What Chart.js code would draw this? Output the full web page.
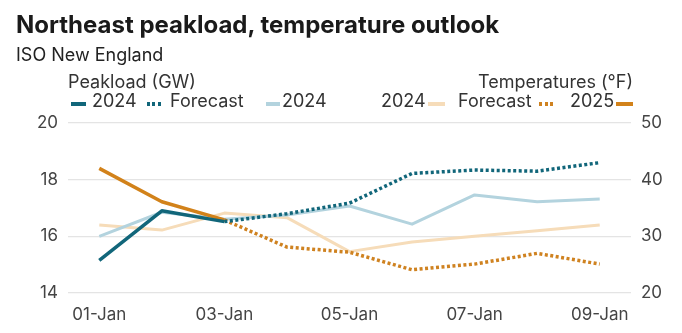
<!DOCTYPE html>
<html>
<head>
<meta charset="utf-8">
<script src="https://cdn.jsdelivr.net/npm/chart.js@4/dist/chart.umd.min.js"></script>
<style>
  body { margin: 0; background: #fff; font-family: Inter, "Noto Sans", sans-serif; color: #222; }
  #wrap { position: relative; width: 682px; height: 333px; overflow: hidden; }
  #grafica { position: absolute; left: 0; top: 0; }
  .txt { position: absolute; white-space: nowrap; }
  .titulo { left: 16px; top: 11px; font-size: 24px; font-weight: 700; line-height: 28px; color: #1a1a1a; }
  .sub { left: 16px; top: 45px; font-size: 18px; line-height: 20px; color: #222; }
  .leg { font-size: 18px; line-height: 20px; color: #333; }
  .mk { position: absolute; height: 4px; top: 102px; }
</style>
</head>
<body>
<div id="wrap">
  <canvas id="grafica" width="682" height="333"></canvas>
  <div class="txt titulo">Northeast peakload, temperature outlook</div>
  <div class="txt sub">ISO New England</div>

  <div class="txt leg" style="left:68px; top:72px;">Peakload (GW)</div>
  <span class="mk" style="left:71px; width:15px; background:#11667a;"></span>
  <div class="txt leg" style="left:92px; top:91px;">2024</div>
  <span class="mk" style="left:147px; width:14px; background:repeating-linear-gradient(90deg,#11667a 0 3px,transparent 3px 5.5px);"></span>
  <div class="txt leg" style="left:170px; top:91px;">Forecast</div>
  <span class="mk" style="left:266px; width:14px; background:#b3d3de;"></span>
  <div class="txt leg" style="left:282px; top:91px;">2024</div>

  <div class="txt leg" style="right:49px; top:72px;">Temperatures (°F)</div>
  <div class="txt leg" style="left:381px; top:91px;">2024</div>
  <span class="mk" style="left:428px; width:17px; background:#f6dcb9;"></span>
  <div class="txt leg" style="left:458px; top:91px;">Forecast</div>
  <span class="mk" style="left:539px; width:15px; background:repeating-linear-gradient(90deg,#cf8220 0 3px,transparent 3px 5.5px);"></span>
  <div class="txt leg" style="left:570px; top:91px;">2025</div>
  <span class="mk" style="left:616px; width:17px; background:#d2821a;"></span>
</div>

<script>
// Datos
const dias = ['01-Jan', '02-Jan', '03-Jan', '04-Jan', '05-Jan', '06-Jan', '07-Jan', '08-Jan', '09-Jan'];

// Peakload (GW)
const cargaActual = [15.15, 16.9, 16.52, null, null, null, null, null, null];
const cargaPronostico = [null, null, 16.52, 16.8, 17.17, 18.22, 18.34, 18.3, 18.6];
const carga2024 = [16.0, 16.85, 16.6, 16.75, 17.07, 16.43, 17.46, 17.22, 17.32];

// Temperaturas (°F)
const temp2025 = [42.0, 36.1, 32.9, null, null, null, null, null, null];
const tempPronostico = [null, null, 32.9, 28.1, 27.2, 24.1, 25.1, 27.0, 25.1];
const temp2024 = [32.0, 31.1, 34.1, 33.3, 27.3, 29.0, 30.0, 31.0, 32.0];

const ticksX = ['01-Jan', '03-Jan', '05-Jan', '07-Jan', '09-Jan'];

const tealOscuro = '#11667a';
const azulClaro = '#b3d3de';
const naranja = '#d2821a';
const durazno = '#f6dcb9';

function cargarGrafica() {
  const canvas = document.getElementById('grafica');

  // el primer dataset queda encima
  new Chart(canvas, {
    type: 'line',
    data: {
      labels: dias,
      datasets: [
        { label: '2024', data: cargaActual, yAxisID: 'y', borderColor: tealOscuro, borderWidth: 3.5 },
        { label: 'Forecast', data: cargaPronostico, yAxisID: 'y', borderColor: tealOscuro, borderWidth: 3.5, borderDash: [3, 2.5] },
        { label: '2025', data: temp2025, yAxisID: 'y1', borderColor: naranja, borderWidth: 3.5 },
        { label: 'Forecast', data: tempPronostico, yAxisID: 'y1', borderColor: '#cf8220', borderWidth: 3.5, borderDash: [3, 2.5] },
        { label: '2024', data: carga2024, yAxisID: 'y', borderColor: azulClaro, borderWidth: 3 },
        { label: '2024', data: temp2024, yAxisID: 'y1', borderColor: durazno, borderWidth: 3 }
      ]
    },
    options: {
      responsive: false,
      animation: false,
      spanGaps: false,
      elements: {
        point: { radius: 0, hoverRadius: 0 },
        line: { tension: 0, borderCapStyle: 'butt', borderJoinStyle: 'round' }
      },
      layout: { padding: { top: 123, left: 0, right: 0, bottom: 0 } },
      plugins: {
        legend: { display: false },
        tooltip: { enabled: false }
      },
      scales: {
        x: {
          type: 'category',
          offset: true,
          grid: { display: false },
          border: { display: false },
          ticks: {
            autoSkip: false,
            maxRotation: 0,
            padding: 4,
            color: '#444',
            font: { family: 'Inter', size: 17 },
            callback: function (v, i) {
              const d = dias[i];
              return ticksX.includes(d) ? d : '';
            }
          },
          afterFit: s => { s.height = 40; }
        },
        y: {
          position: 'left',
          min: 14,
          max: 20,
          grid: { color: '#e4e4e4', lineWidth: 1.3, drawTicks: false },
          border: { display: false },
          ticks: { stepSize: 2, padding: 10, color: '#444', font: { family: 'Inter', size: 17 } },
          afterFit: s => { s.width = 68; }
        },
        y1: {
          position: 'right',
          min: 20,
          max: 50,
          grid: { display: false, drawTicks: false },
          border: { display: false },
          ticks: { stepSize: 10, padding: 10, color: '#444', font: { family: 'Inter', size: 17 } },
          afterFit: s => { s.width = 51; }
        }
      }
    }
  });
}

window.onload = cargarGrafica;
</script>
</body>
</html>
